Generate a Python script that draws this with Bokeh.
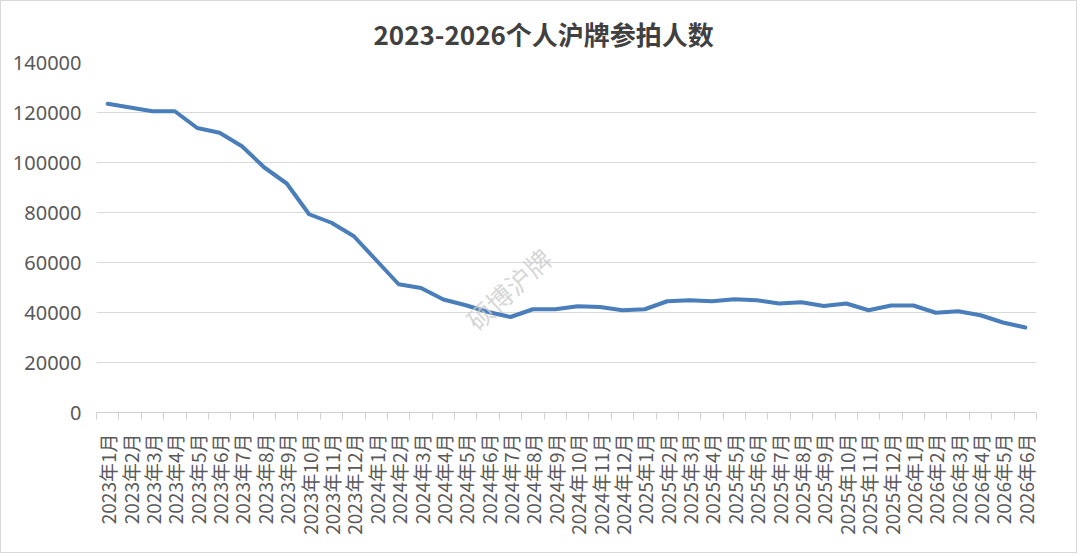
import math
from bokeh.plotting import figure
from bokeh.models import Range1d, FixedTicker, Title, Label, BasicTickFormatter, ColumnDataSource
from bokeh.embed import file_html
from bokeh.resources import INLINE

# ---- data ----
years = [2023] * 12 + [2024] * 12 + [2025] * 12 + [2026] * 6
months = list(range(1, 13)) * 3 + list(range(1, 7))
month_labels = [f"{y}年{m}月" for y, m in zip(years, months)]
bidders = [
    123500, 122000, 120500, 120500, 113800, 111900, 106500, 98000, 91600, 79300, 75900, 70500,
    60900, 51300, 49800, 45200, 42900, 40200, 38200, 41300, 41300, 42500, 42200, 40900,
    41300, 44500, 44900, 44500, 45300, 44900, 43600, 44100, 42600, 43600, 40900, 42800,
    42800, 39900, 40500, 38900, 36000, 34000,
]
y_ticks = [0, 20000, 40000, 60000, 80000, 100000, 120000, 140000]
title_text = "2023-2026个人沪牌参拍人数"
watermark_text = "硕博沪牌"

n = len(month_labels)
xs = [i + 0.5 for i in range(n)]
src = ColumnDataSource(dict(x=xs, y=bidders, label=month_labels))

p = figure(width=1077, height=553, output_backend="svg", toolbar_location=None,
           x_range=Range1d(0, n), y_range=Range1d(0, 140000),
           min_border_left=95, min_border_right=42, min_border_top=61, min_border_bottom=142,
           styles={"border": "1px solid #d9d9d9"})
p.outline_line_color = None
p.background_fill_color = "white"
p.border_fill_color = "white"

t = Title(text=title_text, align="left", text_font="Noto Sans CJK SC", text_font_size="26px",
          text_font_style="bold", text_color="#404040", offset=277, standoff=22)
p.add_layout(t, "above")

p.line("x", "y", source=src, line_color="#4a7ebb", line_width=4, line_join="round", line_cap="round")

# x axis
p.xaxis.ticker = FixedTicker(ticks=xs, minor_ticks=list(range(n + 1)))
p.xaxis.major_label_overrides = {x: lab for x, lab in zip(xs, month_labels)}
p.xaxis.major_label_orientation = math.pi / 2
p.xaxis.major_tick_line_color = None
p.xaxis.major_tick_out = 0
p.xaxis.major_tick_in = 0
p.xaxis.minor_tick_line_color = "#d0d0d0"
p.xaxis.minor_tick_out = 7
p.xaxis.minor_tick_in = 0
p.xaxis.axis_line_color = "#d0d0d0"
p.xaxis.major_label_standoff = 14
p.xaxis.major_label_text_font = "Noto Sans CJK SC"
p.xaxis.major_label_text_font_size = "19px"
p.xaxis.major_label_text_color = "#595959"

# y axis
p.yaxis.ticker = FixedTicker(ticks=y_ticks)
p.yaxis.formatter = BasicTickFormatter(use_scientific=False)
p.yaxis.axis_line_color = None
p.yaxis.major_tick_line_color = None
p.yaxis.minor_tick_line_color = None
p.yaxis.major_tick_out = 0
p.yaxis.major_label_standoff = 15
p.yaxis.major_label_text_font = "Noto Sans"
p.yaxis.major_label_text_font_size = "20px"
p.yaxis.major_label_text_color = "#595959"

p.xgrid.grid_line_color = None
p.ygrid.ticker = FixedTicker(ticks=y_ticks)
p.ygrid.grid_line_color = "#d9d9d9"
p.ygrid.grid_line_width = 1

# watermark
wm = Label(x=18.4, y=49600, text=watermark_text, angle=0.75, text_align="center", text_baseline="middle",
           text_font="Noto Sans CJK SC", text_font_size="26px", text_color="#cccccc", text_alpha=0.8)
p.add_layout(wm)

open("out.html", "w").write(file_html(p, INLINE))
